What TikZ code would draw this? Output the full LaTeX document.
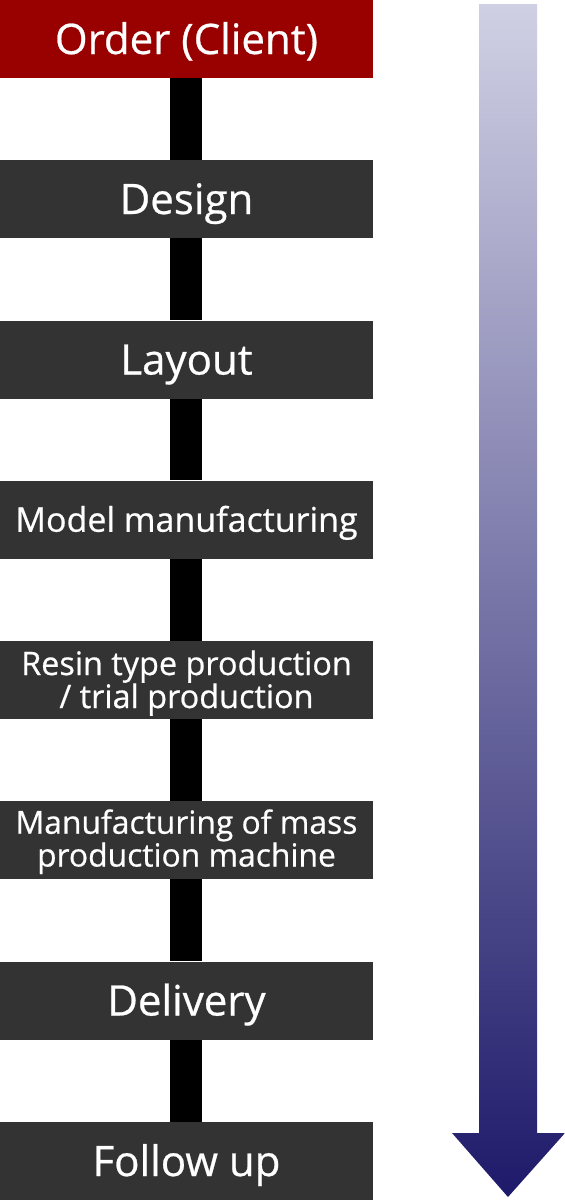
\documentclass[tikz,border=0pt]{standalone}
\usepackage{fontspec}
\setmainfont{Open Sans}[FakeBold=0.6]
\definecolor{boxgray}{HTML}{333333}
\definecolor{boxred}{HTML}{990000}
\definecolor{arrtop}{HTML}{D0D0E4}
\definecolor{arrbot}{HTML}{1E1A6A}
\tikzset{
  stepbox/.style={fill=boxgray, text=white, minimum width=373pt, minimum height=78pt, inner sep=0pt, align=center, font=\fontsize{42}{44}\selectfont, text height=30pt, text depth=0pt},
  redbox/.style={stepbox, fill=boxred},
  bar/.style={line width=32pt, black},
}
\begin{document}
\begin{tikzpicture}[x=1pt,y=-1pt]
\useasboundingbox (0,0) rectangle (565,1200);
% gradient arrow
\shade[top color=arrtop, bottom color=arrbot, shading angle=0]
  (479,4) -- (537,4) -- (537,1133) -- (565,1133) -- (508,1197) -- (452,1133) -- (479,1133) -- cycle;
% boxes
\node[redbox] (n1) at (186.5,39) {Order (Client)};
\node[stepbox] (n2) at (186.5,199) {Design};
\node[stepbox] (n3) at (186.5,359.5) {Layout};
\node[stepbox] (n4) at (186.5,519.5) [font=\fontsize{34}{36}\selectfont, text height=24.5pt] {Model manufacturing};
\node[stepbox] (n5) at (186.5,680) [font=\fontsize{32.4}{33}\selectfont, text height=56pt] {Resin type production\\ / trial production};
\node[stepbox] (n6) at (186.5,840) [font=\fontsize{31.8}{30}\selectfont, text height=53pt] {Manufacturing of mass\\ production machine};
\node[stepbox] (n7) at (186.5,1000.5) {Delivery};
\node[stepbox] (n8) at (186.5,1161) {Follow up};
% connectors
\foreach \a/\b in {n1/n2,n2/n3,n3/n4,n4/n5,n5/n6,n6/n7,n7/n8}
  \draw[bar] ([xshift=-0.5pt]\a.south) -- ([xshift=-0.5pt]\b.north);
\end{tikzpicture}
\end{document}
